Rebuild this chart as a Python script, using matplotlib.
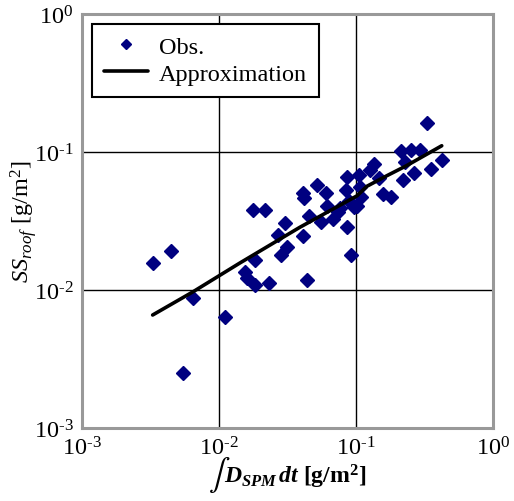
import matplotlib
matplotlib.use("Agg")
import matplotlib.pyplot as plt
from matplotlib.ticker import FixedLocator, FuncFormatter

plt.rcParams['font.family'] = ['Liberation Serif', 'DejaVu Serif']
plt.rcParams['mathtext.fontset'] = 'custom'
plt.rcParams['mathtext.rm'] = 'Liberation Serif'
plt.rcParams['mathtext.it'] = 'Liberation Serif:italic'
plt.rcParams['mathtext.bf'] = 'Liberation Serif:bold'
HAS_BFIT = 'mathtext.bfit' in plt.rcParams
if HAS_BFIT:
    plt.rcParams['mathtext.bfit'] = 'Liberation Serif:italic:bold'

# Observed values (x: integrated deposition, y: SS on roof), g/m2
obs_x = [0.00328, 0.00443, 0.00648, 0.01107, 0.00543, 0.0176, 0.0217, 0.0519,
         0.0412, 0.0421, 0.0604, 0.0611, 0.0303, 0.0272, 0.0454, 0.0560,
         0.0410, 0.0313, 0.0286, 0.0184, 0.0155, 0.0159, 0.0183, 0.0233,
         0.0438, 0.331, 0.213, 0.252, 0.293, 0.423, 0.352, 0.228, 0.264,
         0.220, 0.135, 0.126, 0.147, 0.157, 0.181, 0.106, 0.0855, 0.0845,
         0.107, 0.109, 0.0889, 0.102, 0.0764, 0.0743, 0.0682, 0.0859,
         0.0914, 0.0961]
obs_y = [0.0157, 0.0191, 0.00875, 0.00637, 0.00250, 0.0382, 0.0382, 0.0574,
         0.0502, 0.0464, 0.0504, 0.0408, 0.0306, 0.0252, 0.0341, 0.0313,
         0.0248, 0.0205, 0.0179, 0.0165, 0.0135, 0.0122, 0.0109, 0.0112,
         0.0119, 0.161, 0.101, 0.104, 0.104, 0.0878, 0.0747, 0.0847, 0.0708,
         0.0632, 0.0825, 0.0741, 0.0643, 0.0500, 0.0472, 0.0684, 0.0656,
         0.0528, 0.0560, 0.0470, 0.0441, 0.0403, 0.0396, 0.0366, 0.0327,
         0.0286, 0.0180, 0.0397]

# Approximation curve
fit_x = [0.00328, 0.00648, 0.01422, 0.0390, 0.102, 0.120, 0.168, 0.234, 0.277, 0.423]
fit_y = [0.00659, 0.00972, 0.0157, 0.0285, 0.0482, 0.0564, 0.0673, 0.0796, 0.0875, 0.111]

decades = [1e-3, 1e-2, 1e-1, 1e0]
exps = {1e-3: '-3', 1e-2: '-2', 1e-1: '-1', 1e0: '0'}

fig = plt.figure(figsize=(5.14, 5.02), dpi=100, facecolor='white')
ax = fig.add_axes([0.1595, 0.1454, 0.7995, 0.8247])

ax.plot(obs_x, obs_y, linestyle='none', marker='D', markersize=7,
        color='#000080', label='Obs.', zorder=3)
ax.plot(fit_x, fit_y, color='black', linewidth=2.6, solid_capstyle='round',
        label='Approximation', zorder=4)

ax.set_xscale('log')
ax.set_yscale('log')
ax.set_xlim(1e-3, 1e0)
ax.set_ylim(1e-3, 1e0)
ax.minorticks_off()
ax.xaxis.set_major_locator(FixedLocator(decades))
ax.yaxis.set_major_locator(FixedLocator(decades))
fmt = FuncFormatter(lambda v, p: r'10$^{\text{%s}}$' % exps.get(v, ''))
ax.xaxis.set_major_formatter(fmt)
ax.yaxis.set_major_formatter(fmt)
ax.tick_params(length=0, labelsize=17.5)
ax.tick_params(axis='x', pad=6)
ax.tick_params(axis='y', pad=6)

ax.grid(True, color='black', linewidth=1.0)
ax.set_axisbelow(True)
for s in ax.spines.values():
    s.set_color('#999999')
    s.set_linewidth(2.2)

# x label: big integral sign + bold italic D_SPM dt
if HAS_BFIT:
    xl = r'$\mathbfit{D}_{\mathbfit{SPM}}\,\mathbfit{dt}$ [g/m$^\mathbf{2}$]'
else:
    xl = r'$\mathbf{D}_{\mathbf{SPM}}\,\mathbf{dt}$ [g/m$^\mathbf{2}$]'
ax.set_xlabel(xl, fontsize=17, fontweight='bold', ha='left', va='center')
ax.xaxis.set_label_coords(0.345, -0.116)
fig.text(224 / 514, 1 - 475 / 502, '\u222b', fontsize=23, ha='right', va='center',
         family=['STIXGeneral', 'DejaVu Serif'])

ax.set_ylabel(r'$SS_{roof}$ [g/m$^2$]', fontsize=17.5, va='center')
ax.yaxis.set_label_coords(-0.143, 0.5)

leg = ax.legend(loc='upper left', fontsize=17.5, frameon=True, fancybox=False,
                framealpha=1, edgecolor='black', borderpad=0.5, handlelength=1.8,
                handletextpad=0.45, labelspacing=0.2, borderaxespad=0.4,
                markerscale=0.75)
leg.get_frame().set_linewidth(1.5)

fig.savefig('out.png', dpi=100, facecolor='white')
